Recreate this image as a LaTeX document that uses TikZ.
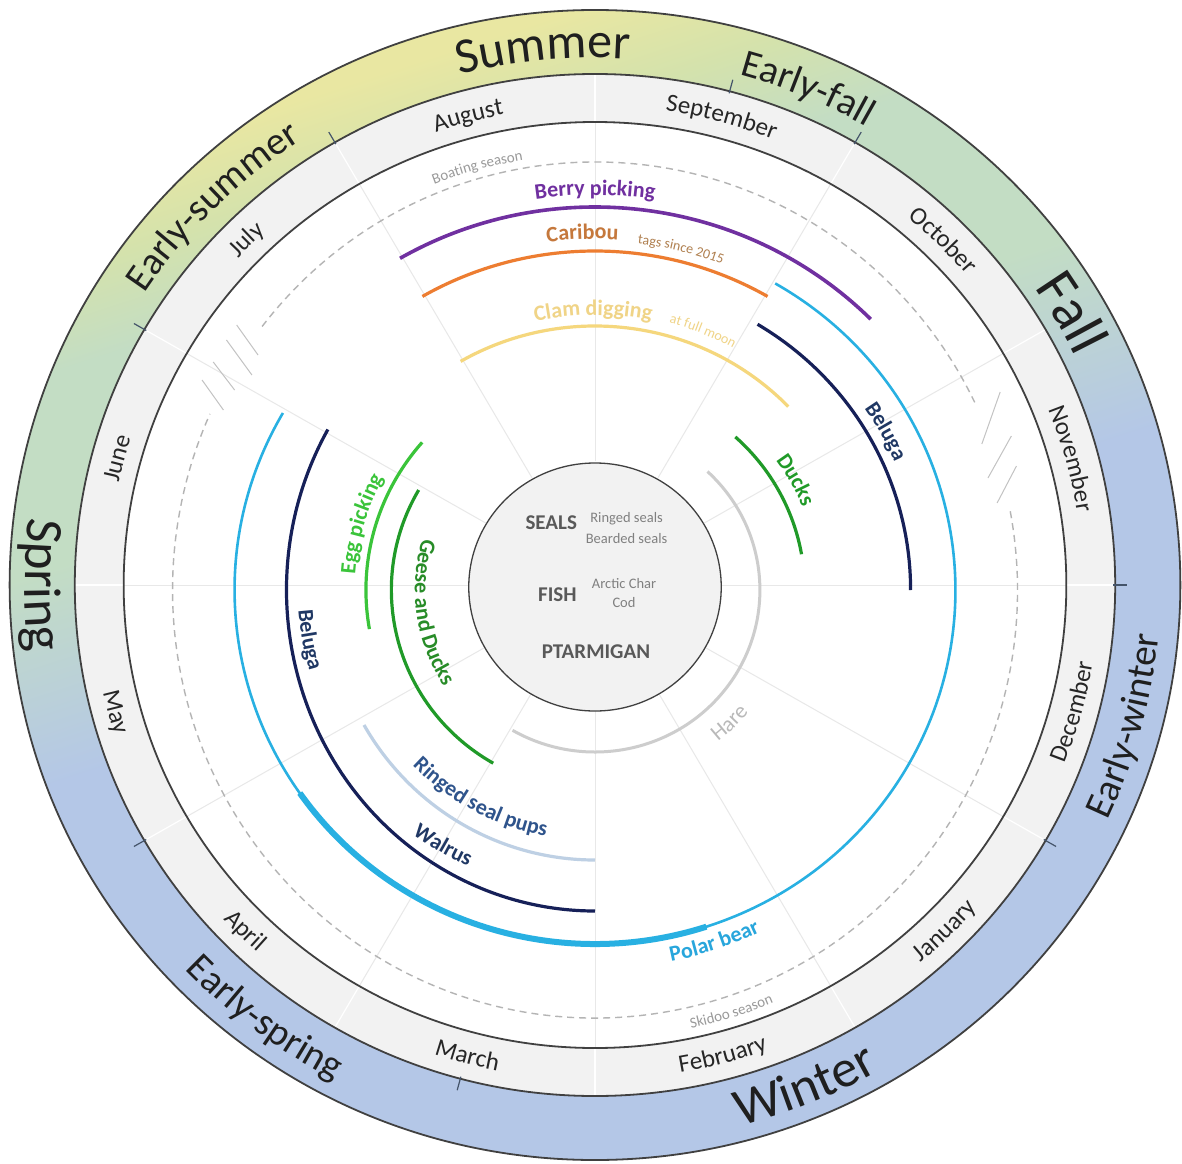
\documentclass[tikz,border=0pt]{standalone}
\usepackage{fontspec}
\setmainfont{Carlito}
\usetikzlibrary{decorations.text}

\definecolor{sblue}{RGB}{180,199,231}
\definecolor{sgreen}{RGB}{195,221,196}
\definecolor{sgy}{RGB}{212,226,172}
\definecolor{syellow}{RGB}{233,231,162}
\definecolor{monthgray}{RGB}{242,242,242}
\definecolor{ringcol}{RGB}{64,64,64}
\definecolor{tickcol}{RGB}{68,84,106}
\definecolor{spokegray}{RGB}{232,232,232}
\definecolor{dashgray}{RGB}{180,180,180}
\definecolor{berry}{RGB}{112,48,160}
\definecolor{caribou}{RGB}{237,125,49}
\definecolor{cariboutext}{RGB}{197,120,60}
\definecolor{tagstext}{RGB}{176,128,80}
\definecolor{clam}{RGB}{245,215,125}
\definecolor{clamtext}{RGB}{240,212,135}
\definecolor{navy}{RGB}{22,32,88}
\definecolor{navytext}{RGB}{32,56,100}
\definecolor{polar}{RGB}{40,176,226}
\definecolor{polartext}{RGB}{40,166,220}
\definecolor{duck}{RGB}{32,154,40}
\definecolor{geesetext}{RGB}{40,140,40}
\definecolor{egg}{RGB}{58,196,58}
\definecolor{pups}{RGB}{190,208,228}
\definecolor{pupstext}{RGB}{47,84,140}
\definecolor{hare}{RGB}{205,205,205}
\definecolor{haretext}{RGB}{185,185,185}
\definecolor{centretext}{RGB}{89,89,89}
\definecolor{smalltext}{RGB}{128,128,128}

\pgfdeclareverticalshading{seasons}{100bp}{color(0bp)=(sblue); color(49bp)=(sblue); color(58bp)=(sgreen); color(66bp)=(sgreen); color(70bp)=(sgy); color(74bp)=(syellow); color(100bp)=(syellow)}

\newcommand\seasonbig{\fontsize{53}{53}\selectfont\color{black!88}}
\newcommand\seasonsummer{\fontsize{50}{50}\selectfont\color{black!88}}
\newcommand\seasonfall{\fontsize{58}{58}\selectfont\color{black!88}}
\newcommand\seasonsmall{\fontsize{39}{39}\selectfont\color{black!88}}
\newcommand\monthfont{\fontsize{25}{25}\selectfont\color{black!85}}
\newcommand\actfont[1]{\fontsize{22}{22}\selectfont\bfseries\color{#1}}
\newcommand\notefont[1]{\fontsize{14}{14}\selectfont\color{#1}}
\newcommand\graynote{\fontsize{15}{15}\selectfont\color{smalltext!80}}
\newcommand\harefont{\fontsize{22}{22}\selectfont\color{haretext}}

% text read clockwise (top half) and counter-clockwise (bottom half)
\newcommand\cwtext[4]{\path[decorate,decoration={text along path,text align=center,text={|#3|#4}}]
  (#1+40:#2) arc[start angle=#1+40,end angle=#1-40,radius=#2];}
\newcommand\ccwtext[4]{\path[decorate,decoration={text along path,text align=center,text={|#3|#4}}]
  (#1-40:#2) arc[start angle=#1-40,end angle=#1+40,radius=#2];}

\begin{document}
\begin{tikzpicture}[x=1.018pt,y=1pt]
  \tikzset{
    ringline/.style={draw=ringcol,line width=1.8pt},
    spoke/.style={draw=spokegray,line width=1pt},
    seasontick/.style={draw=tickcol,line width=1.2pt},
    act/.style={line width=3.2pt},
    seasondash/.style={draw=dashgray,line width=1.4pt,dash pattern=on 7pt off 5pt},
    breakmark/.style={draw=dashgray!80,line width=1pt},
    centrelabel/.style={font=\fontsize{21}{21}\selectfont\bfseries,text=centretext},
    species/.style={font=\fontsize{14.5}{19}\selectfont,text=smalltext,align=center}
  }
  \useasboundingbox (-595pt,-578pt) rectangle (587pt,585pt);

  \shade[shading=seasons,shading angle=18] (0,0) circle[radius=575];
  \fill[monthgray] (0,0) circle[radius=511];
  \fill[white] (0,0) circle[radius=463];
  \foreach \a in {0,30,...,330} {
    \draw[spoke] (\a:124) -- (\a:463);
    \draw[white,line width=1.2pt] (\a:463) -- (\a:511);
  }
  \foreach \r in {575,511,463} \draw[ringline] (0,0) circle[radius=\r];
  \foreach \a in {150,120,75,60,0,-30,-105,-150} \draw[seasontick] (\a:509) -- (\a:523);

  \cwtext{135}{530}{\seasonsmall}{Early-summer}
  \cwtext{95.5}{527}{\seasonsummer}{Summer}
  \cwtext{67}{530}{\seasonsmall}{Early-fall}
  \cwtext{30}{524}{\seasonfall}{Fall}
  \ccwtext{-15}{556}{\seasonsmall}{Early-winter}
  \ccwtext{-67.5}{560}{\seasonbig}{Winter}
  \ccwtext{-127}{557}{\seasonsmall}{Early-spring}
  \ccwtext{180}{560}{\seasonbig}{Spring}

  \cwtext{165}{479}{\monthfont}{June}
  \cwtext{135}{479}{\monthfont}{July}
  \cwtext{105}{479}{\monthfont}{August}
  \cwtext{75}{479}{\monthfont}{September}
  \cwtext{45}{479}{\monthfont}{October}
  \cwtext{15}{479}{\monthfont}{November}
  \ccwtext{-15}{495}{\monthfont}{December}
  \ccwtext{-45}{495}{\monthfont}{January}
  \ccwtext{-75}{495}{\monthfont}{February}
  \ccwtext{-105}{495}{\monthfont}{March}
  \ccwtext{-135}{495}{\monthfont}{April}
  \ccwtext{-165}{495}{\monthfont}{May}

  \draw[breakmark] (-352,260) -- (-331,230) (-362,245) -- (-337,210)
    (-375,223) -- (-354,195) (-386,205) -- (-365,175);
  \draw[breakmark] (380,141) -- (398,193) (386,107) -- (409,149) (395,82) -- (414,119);

  \begin{scope}[shift={(0,-5)}]
    \draw[seasondash] (142:415 and 428) arc[start angle=142,end angle=26,x radius=415,y radius=428];
    \draw[seasondash] (10.6:415 and 428) arc[start angle=10.6,end angle=-204.3,x radius=415,y radius=428];
    \cwtext{105.4}{435.5}{\graynote}{Boating season}
    \ccwtext{-72.3}{448.5}{\graynote}{Skidoo season}

    \draw[act,berry,line width=3.6pt] (120:383) arc[start angle=120,end angle=45,radius=383];
    \draw[act,caribou] (120:339) arc[start angle=120,end angle=60,radius=339];
    \draw[act,clam] (120:264) arc[start angle=120,end angle=44,radius=264];
    \draw[act,navy] (59:310) arc[start angle=59,end angle=0,radius=310];
    \draw[act,polar,line width=2.6pt] (60:354) arc[start angle=60,end angle=-210,radius=354];
    \draw[act,polar,line width=6pt] (-145:354) arc[start angle=-145,end angle=-72,radius=354];
    \draw[act,duck] (48:206) arc[start angle=48,end angle=10,radius=206];
    \draw[act,hare,line width=3pt] (47:162) arc[start angle=47,end angle=-120,radius=162];
    \draw[act,egg] (139:225) arc[start angle=139,end angle=190,radius=225];
    \draw[act,duck] (150:200) arc[start angle=150,end angle=240,radius=200];
    \draw[act,navy] (150:303 and 321) arc[start angle=150,end angle=270,x radius=303,y radius=321];
    \draw[act,pups] (210:262 and 270) arc[start angle=210,end angle=270,x radius=262,y radius=270];

    \cwtext{90}{395}{\actfont{berry}}{Berry picking}
    \cwtext{92}{351}{\actfont{cariboutext}}{Caribou}
    \cwtext{76}{349}{\notefont{tagstext}}{tags since 2015}
    \cwtext{90.4}{275}{\actfont{clamtext}}{Clam digging}
    \cwtext{67.6}{277}{\notefont{clamtext}}{at full moon}
    \cwtext{28.8}{321}{\actfont{navytext}}{Beluga}
    \cwtext{29}{220}{\actfont{duck}}{Ducks}
    \ccwtext{-71.5}{379}{\actfont{polartext}}{Polar bear}
    \ccwtext{-45}{194}{\harefont}{Hare}
    \cwtext{164}{236}{\actfont{egg}}{Egg picking}
    \ccwtext{-172}{177}{\actfont{geesetext}}{Geese and Ducks}
    \ccwtext{-170}{292}{\actfont{navytext}}{Beluga}
    \ccwtext{-118.5}{251}{\actfont{pupstext}}{Ringed seal pups}
    \ccwtext{-120.5}{303}{\actfont{navytext}}{Walrus}
  \end{scope}

  \draw[ringline,fill=monthgray,line width=1.3pt] (0,-2) circle[radius=124];
  \node[centrelabel] (seals) at (-43,62) {SEALS};
  \node[species] (ringed) at (31,66) {Ringed seals};
  \node[species] (bearded) at (31,46) {Bearded seals};
  \node[centrelabel] (fish) at (-37,-10) {FISH};
  \node[species] (fishes) at (28.5,-8.5) {Arctic Char\\Cod};
  \node[centrelabel] (ptarmigan) at (1,-67) {PTARMIGAN};
\end{tikzpicture}
\end{document}
